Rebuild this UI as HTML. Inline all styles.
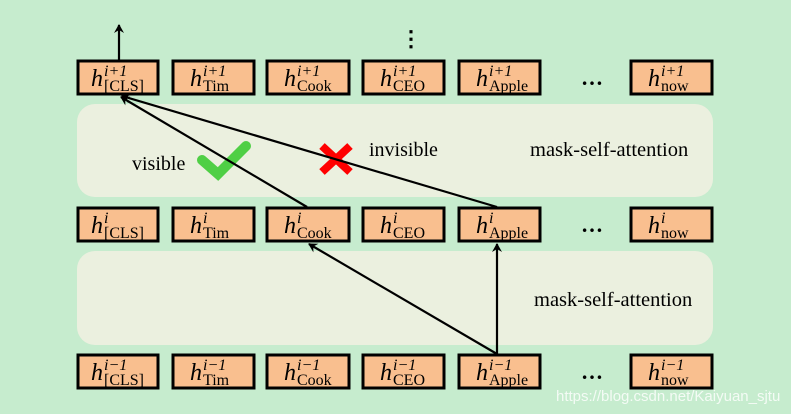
<!DOCTYPE html>
<html><head><meta charset="utf-8"><style>
body{margin:0;background:#c6ecce;}
svg{display:block;}
text{font-family:"Liberation Serif",serif;}
</style></head><body>
<svg width="791" height="414" viewBox="0 0 791 414">
<defs><marker id="ah" markerWidth="10" markerHeight="10" refX="8" refY="5" orient="auto" markerUnits="userSpaceOnUse"><path d="M0,0 L9,5 L0,10 L3,5 Z" fill="#000"/></marker></defs>
<rect width="791" height="414" fill="#c6ecce"/>
<rect x="77" y="104" width="636" height="93" rx="18" fill="#ebf0df"/>
<rect x="77" y="251" width="636" height="94" rx="18" fill="#ebf0df"/>
<text x="530" y="156" font-size="20.5">mask-self-attention</text>
<text x="534" y="306" font-size="20.5">mask-self-attention</text>
<text x="132" y="170" font-size="20">visible</text>
<text x="369" y="156" font-size="20">invisible</text>
<path d="M202,160 L218,174 L246,146" stroke="#4fcf45" stroke-width="10" fill="none" stroke-linecap="round"/>
<path d="M322,146 L350,172 M350,146 L322,172" stroke="#f00" stroke-width="8" fill="none"/>
<g stroke="#000" stroke-width="2.2" fill="none">
<line x1="119" y1="60" x2="119" y2="25" marker-end="url(#ah)"/>
<line x1="307" y1="207" x2="121" y2="97" marker-end="url(#ah)"/>
<line x1="497" y1="207" x2="122" y2="96" marker-end="url(#ah)"/>
<line x1="497" y1="354" x2="309" y2="244" marker-end="url(#ah)"/>
<line x1="497" y1="354" x2="497" y2="244" marker-end="url(#ah)"/>
</g>
<g font-size="22" font-weight="bold"><text x="400" y="46">⋮</text></g>
<g id="rows"></g>
</svg>
<script>
const xs=[78,173,267,363,459,631];
const ws=[80,81,82,81,81,81];
const subs=["[CLS]","Tim","Cook","CEO","Apple","now"];
const rows=[{y:61,sup:"i+1"},{y:208,sup:"i"},{y:355,sup:"i−1"}];
const g=document.getElementById('rows');
const ns="http://www.w3.org/2000/svg";
function txt(parent,x,y,size,content,style){
  const t=document.createElementNS(ns,'text');
  t.setAttribute('x',x);t.setAttribute('y',y);t.setAttribute('font-size',size);
  if(style)t.setAttribute('font-style',style);
  t.textContent=content;parent.appendChild(t);return t;
}
rows.forEach((r,ri)=>{
  xs.forEach((x,i)=>{
    const grp=document.createElementNS(ns,'g');
    
    
    const rc=document.createElementNS(ns,'rect');
    rc.setAttribute('x',x);rc.setAttribute('y',r.y);rc.setAttribute('width',ws[i]);rc.setAttribute('height',33);
    rc.setAttribute('fill','#f9bf8f');rc.setAttribute('stroke','#000');rc.setAttribute('stroke-width','3');
    grp.appendChild(rc);
    const hx=x+(i==0?13:17);
    txt(grp,hx,r.y+25,24,'h','italic');
    txt(grp,hx+13,r.y+15,16,r.sup,'italic');
    txt(grp,hx+13,r.y+30,16,subs[i]);
    g.appendChild(grp);
  });
  const d=document.createElementNS(ns,'text');
  d.setAttribute('x',581);d.setAttribute('y',r.y+24);d.setAttribute('font-size','22');d.setAttribute('font-weight','bold');
  d.textContent='…';
  
  
  g.appendChild(d);
});
</script>
<div style="position:absolute;left:556px;top:388px;font:15px 'Liberation Sans',sans-serif;color:rgba(255,255,255,0.8)">https://blog.csdn.net/Kaiyuan_sjtu</div>
</body></html>
